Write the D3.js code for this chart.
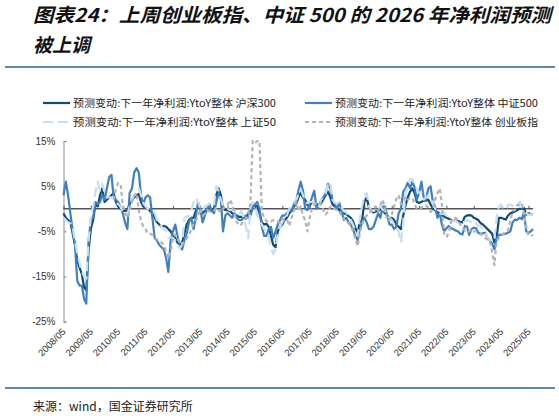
<!DOCTYPE html>
<html>
<head>
<meta charset="utf-8" />
<script src="https://d3js.org/d3.v7.min.js"></script>
<style>
  body { margin: 0; background: #fff; }
  svg text { font-family: "Liberation Sans", Arial, sans-serif; }
  .cjk { font-family: "Noto Sans CJK SC", sans-serif; }
</style>
</head>
<body>
<div id="chart"></div>
<script>
// 月度数据, 从 2008/05 开始 (单位: %)
const firstMonth = new Date(2008, 4, 1);
const tickLabels = ["2008/05","2009/05","2010/05","2011/05","2012/05","2013/05","2014/05","2015/05","2016/05",
  "2017/05","2018/05","2019/05","2020/05","2021/05","2022/05","2023/05","2024/05","2025/05"];
const yTicks = [15, 5, -5, -15, -25];

const hs300 = [
  -1, -2, -2.5, -3, -5.5, -8, -11.5, -13, -14.5, -17.5,
  -18, -9, -4.5, -2.5, 1, 0.5, 3, 4.5, 1.5, 2,
  2.5, 3, 3.5, 1.5, 0.5, 0, -0.5, -0.5, -0.3, 1,
  2, 2.5, 3, 3.3, 1.5, 0.5, 0.3, 0, -0.5, -1,
  -2, -3, -3.5, -4, -3.8, -4, -4.5, -5, -6, -6.5,
  -7.5, -8, -7.5, -5.5, -3.5, -2.5, -2, -2, -0.5, 0.3,
  0, -1, -0.5, -0.3, -0.5, -0.3, 0, 3, 4.5, 3,
  0, -0.3, -0.3, -0.5, -1, -1.3, -1.5, -1.8, -1.8, -2,
  -2.2, -1, -0.5, 0.5, 0.8, 0.5, -1, -3, -3.5, -3.3,
  -4, -6, -8, -8.5, -5, -4, -3.5, -2.5, -2, -1,
  -0.5, 0.5, 1, 2.5, 3.5, 2.5, 2, 0.8, 0.7, 1.5,
  1.2, 1, 0.8, 1.2, 2.2, 3, 3.8, 2.5, 1, 0.5,
  0, -0.3, -1, -1, -1.2, -1.6, -2, -2.8, -4.3, -5.3,
  -3, -2.5, 1.5, 2.5, 0.3, -0.3, -0.8, -0.6, -0.5, -0.2,
  -0.3, -1, -1.5, -2, -2, -2.5, -3.5, -4, -4.5, -1.5,
  0.8, 2.5, 3.8, 4.5, 3.5, 1.5, 1.3, 1.5, 1.8, 1.8,
  2, 1, 0, -0.3, -0.8, -1, -1.5, -1.7, -2, -2.2,
  -2.5, -2.5, -2.6, -2.7, -2.9, -3, -1.8, -1.5, -1.4, -1.5,
  -2, -2.2, -2.5, -3.2, -3.5, -4, -4.5, -5, -5.5, -7.5,
  -6.5, -2, -2, -2.2, -2.4, -1.5, -1, -0.8, -0.6, -0.3,
  0, 0, 0.2, -1.3, -1, -1.2, -1.2
];
const zz500 = [
  3, 6, 3, -1, -5, -8, -16, -17, -17, -20,
  -21, -7, -2.5, -2, 1.5, 1, 1.5, 3, 2, 4.5,
  7, 7.5, 2.5, 2, 1.5, 0.5, -1, -3, -4.5, 3.5,
  4.5, 8, 9, 8, 3, 1, 2.5, 3, 2.5, -2,
  -6.5, -7, -8, -8.5, -9, -11, -14, -7, -5, -3.5,
  -6, -8.5, -9, -7, -5.5, -3, -2, -4.5, -2, 1.5,
  0, -3, -1.5, 0, 1, -0.5, -1, 1.5, 3.5, 2,
  -5, -1.5, -1, -1.5, -2, -1, -2, -2.5, -2.5, -2,
  -1.5, -2, -1.5, 0, 1, 1.5, 0, -4, -6, -6,
  -4.5, -4, -6.5, -5, -3.5, -2.5, -1.5, -1.5, -1, -0.5,
  -0.5, 1, 1.5, 4, 6, 4, 0, -0.3, 1, 2.5,
  4, 0, 0.5, 2, 2.5, 3.5, 5.5, 4.5, 2, 1,
  0, 1.3, -0.5, -2.5, -2, -3, -3.5, -4.5, -6, -7,
  -4.5, -3, -2, -3, -4.5, -4.5, -4, -2.5, -1, -2,
  0.5, 0.5, -1.5, -3.5, -3.5, -4.5, -4, -1, 0, 3.8,
  4.5, 5.8, 4.5, 6, 4.8, 2, 3.5, 6, 2.5, 2,
  4.5, 5, 1.5, 0.5, -2, -1, -3.5, -5, -4.3, -3.8,
  -4.3, -4.5, -4.8, -5, -5.5, -5.7, -3.8, -4, -5.8, -4.5,
  -4.2, -4.3, -5.3, -5.6, -5.4, -5.3, -6.5, -7, -7.7, -9,
  -6.5, -5.8, -5.8, -5.6, -5.5, -5.3, -5, -3, -2.4, -2.5,
  -2, -2.3, -0.8, -5, -5.3, -5, -4.5
];
const sz50 = [
  -2, -2.5, -3, -3.2, -4, -7, -10, -12, -14, -15,
  -15.5, -7, -1.5, 0.5, 3.5, 6, 4, 5.5, 3.5, 2.5,
  2.5, 2.5, 2.6, 1.5, 1, 0.5, -0.8, -1.3, -1.3, 0.5,
  2, 3, 3.8, 4.5, 3, 1.3, 0.5, 0, -0.2, -0.3,
  -1, -2.5, -3, -4, -4.5, -5, -6.5, -6.3, -6.5, -7,
  -8, -8.7, -8, -2, -1.7, -1.5, -0.5, 1.5, 2.5, 1.5,
  0, -0.5, 0.5, 0.8, 1, 0.5, 1, 5, 4, 2,
  0.8, 0.2, 0, -0.3, -0.2, -0.3, -0.8, -1.3, -0.5, -2,
  -4, -6.5, 0, 1.5, 0.5, -1.5, -2.5, -3.5, -4.5, -5,
  -6, -8.5, -10, -9, -5.5, -4, -3, -2.5, -1.5, 0,
  0.5, 1.5, 2, 3, 4.3, 3, 2, 1.2, 1.5, 1.5,
  1.3, 0.5, 0.5, 2, 2.8, 3.3, 5.5, 5.8, 2, 1.3,
  1.2, 1.5, 0.3, -0.5, -0.8, -1.7, -2.5, -3.5, -5, -6,
  -2, 0.5, 3, 3.5, 0.5, -0.3, -0.5, -0.3, 0.3, 0.5,
  -0.2, -0.5, -1.3, -2, -2.5, -3.5, -4.5, -5, -7.5, -3,
  3.5, 5, 6.5, 6.5, 5.5, 4.5, 3.5, 3.7, 2, 2.5,
  3, 2, 1.5, 0, -0.5, -1, -1.2, -0.8, -1.5, -2,
  -2.8, -2.5, -2.7, -3, -3.2, -3, -2.8, -2.5, -2.6, -3,
  -3.5, -3.2, -3.8, -3.8, -4.5, -5, -6.5, -7, -7.2, -6.5,
  -2, 0.5, 1, 0, -0.2, 0.8, 1, 0.6, 1, 0.8,
  1.5, 0.8, -0.5, -1, -1.3, -1.3, -1.2
];
const cyb = [
  null, null, null, null, null, null, null, null, null, null,
  null, null, null, null, null, null, null, null, null, null,
  null, null, 2, 4.5, 5.7, 5.5, 1, -1, -2, -0.5,
  1.5, 2.8, 3.5, -0.5, -2.5, -4, -4.5, -5.5, -5.5, -5.8,
  -6.3, -6.8, -7, -7.5, -8, -9.5, -11, -9.5, -6.5, -5.7,
  -6.5, -7.5, -8, -7.3, -6.5, -6, -4.5, -3.3, -2.7, -1.7,
  0, -1.5, -1.2, -0.3, -0.6, -0.5, -0.4, 0.3, -0.3, -0.8,
  0, 0.5, 0.8, 2, 1, -1, -3, -3.7, -3.5, -2.5,
  -2.2, -1, 1, 15, 14.5, 15, 15, -0.7, -2, -2.7,
  -3, -2.8, -2.5, -2.5, -2.8, -3.2, -2.3, -2.5, -2.3, -3.8,
  -2, -0.8, 1.5, -0.5, 0.5, -1.5, -2.5, -5, -2, 0,
  0.8, 1.3, 1.5, 1, -0.3, -1.3, -0.6, 0.5, 0.6, 0,
  -0.4, -0.5, -1.7, -2.3, -2.9, -3.2, -3.8, -5, -6.7, -8.3,
  -5.5, -3.5, -2.2, -1.5, -1.3, -0.3, 0.2, 0.5, -0.6, 0.8,
  2, 0, -2.5, -2.5, -1.3, 0.5, 2.2, 3, 1, 1.5,
  2.7, 2, 2.3, 2.4, 1, 0, 0.2, 0.2, 0.8, 0.7,
  0.2, -0.7, -0.3, 2, 3.5, 4.5, 1, -5.5, -6.3, -5.3,
  -3, -2.3, -2, -2.5, -3.5, -4, -4.8, -5.2, -5, -4.5,
  -5, -5, -5.3, -5.5, -6, -6.5, -6.8, -7, -9.5, -12.5,
  -7.2, -6.5, -5.8, -5.5, -5, -4.8, -2.5, -0.5, -0.3, 0.8,
  0.8, 1.2, -1, -4, -6, -6, -5.8
];

const seriesNames = ["预测变动:下一年净利润:YtoY整体 沪深300", "预测变动:下一年净利润:YtoY整体 中证500",
  "预测变动:下一年净利润:YtoY整体 上证50", "预测变动:下一年净利润:YtoY整体 创业板指"];
const seriesValues = [hs300, zz500, sz50, cyb];
const seriesColors = ["#0e4c77", "#3f80c4", "#c8def2", "#b3b3b3"];
const seriesDash = [null, null, "10,5", "4,3"];

const width = 559, height = 416;
const dates = hs300.map((v, i) => d3.timeMonth.offset(firstMonth, i));

const svg = d3.select("#chart").append("svg")
  .attr("width", width)
  .attr("height", height);

svg.append("rect").attr("width", width).attr("height", height).attr("fill", "#fff");

// 标题
svg.append("text").attr("class", "cjk")
  .attr("x", 33).attr("y", 22)
  .attr("textLength", 518).attr("lengthAdjust", "spacingAndGlyphs")
  .style("font-size", "19px").style("font-weight", "bold").style("font-style", "italic")
  .attr("fill", "#111")
  .text("图表24：上周创业板指、中证 500 的 2026 年净利润预测");
svg.append("text").attr("class", "cjk")
  .attr("x", 33).attr("y", 52)
  .style("font-size", "19px").style("font-weight", "bold").style("font-style", "italic")
  .attr("fill", "#111")
  .text("被上调");

svg.append("line").attr("x1", 5).attr("x2", 555).attr("y1", 67).attr("y2", 67)
  .attr("stroke", "#2d5f88").attr("stroke-width", 1.6);
svg.append("line").attr("x1", 5).attr("x2", 555).attr("y1", 388).attr("y2", 388)
  .attr("stroke", "#2d5f88").attr("stroke-width", 1.6);

svg.append("text").attr("class", "cjk")
  .attr("x", 33).attr("y", 411)
  .style("font-size", "12px").attr("fill", "#222")
  .text("来源：wind，国金证券研究所");

// 比例尺
const x = d3.scaleTime()
  .domain([new Date(2008, 4, 1), new Date(2025, 4, 1)])
  .range([63.5, 528.5]);
const y = d3.scaleLinear().domain([-25, 15]).range([321.7, 141]);

// 图例
const legendPos = [[43, 103], [305, 103], [43, 122], [305, 122]];
seriesNames.forEach(function(name, i) {
  const g = svg.append("g").attr("transform", "translate(" + legendPos[i][0] + "," + legendPos[i][1] + ")");
  g.append("line").attr("x1", 0).attr("x2", 27).attr("y1", 0).attr("y2", 0)
    .attr("stroke", seriesColors[i]).attr("stroke-width", 2.2)
    .attr("stroke-dasharray", seriesDash[i]);
  g.append("text").attr("class", "cjk")
    .attr("x", 30).attr("y", 3.5)
    .attr("textLength", 203).attr("lengthAdjust", "spacingAndGlyphs")
    .style("font-size", "10px").attr("fill", "#222")
    .text(name);
});

// y 轴
const yAxis = svg.append("g")
  .attr("transform", "translate(63.5,0)")
  .call(d3.axisLeft(y).tickValues(yTicks).tickSize(-3).tickPadding(8)
    .tickFormat(d => d + "%"));
yAxis.select(".domain").attr("stroke", "#8a8a8a");
yAxis.selectAll(".tick line").attr("stroke", "#8a8a8a");
yAxis.selectAll("text").style("font-size", "10px").attr("fill", "#333")
  .style("font-family", "'Liberation Sans', Arial, sans-serif");

// 零线 + 刻度
const lastDate = dates[dates.length - 1];
svg.append("line")
  .attr("x1", x(firstMonth)).attr("x2", x(lastDate))
  .attr("y1", y(0)).attr("y2", y(0))
  .attr("stroke", "#555").attr("stroke-width", 1.3);
const tickDates = tickLabels.map(s => new Date(+s.slice(0, 4), +s.slice(5) - 1, 1));
const zeroAxis = svg.append("g")
  .attr("transform", "translate(0," + y(0) + ")")
  .call(d3.axisTop(x).tickValues(tickDates).tickSize(3).tickFormat(""));
zeroAxis.select(".domain").remove();
zeroAxis.selectAll(".tick line").attr("stroke", "#555");

// x 轴标签
const xAxis = svg.append("g")
  .attr("transform", "translate(0,330)")
  .call(d3.axisBottom(x).tickValues(tickDates).tickSize(0)
    .tickFormat((d, i) => tickLabels[i]));
xAxis.select(".domain").remove();
xAxis.selectAll("text")
  .attr("transform", "rotate(-45)")
  .attr("text-anchor", "end")
  .attr("dx", 0).attr("dy", "0.35em").attr("y", 0).attr("x", 0)
  .style("font-size", "9.5px").attr("fill", "#333")
  .style("font-family", "'Liberation Sans', Arial, sans-serif");

// 折线
svg.append("clipPath").attr("id", "plot-clip")
  .append("rect").attr("x", 60).attr("y", 140).attr("width", 480).attr("height", 185);

const line = d3.line()
  .defined(d => d[1] !== null)
  .x(d => x(d[0]))
  .y(d => y(d[1]));

const lines = svg.append("g").attr("clip-path", "url(#plot-clip)");
seriesValues.forEach(function(vals, i) {
  lines.append("path")
    .datum(vals.map((v, j) => [dates[j], v]))
    .attr("d", line)
    .attr("fill", "none")
    .attr("stroke", seriesColors[i])
    .attr("stroke-width", 2.2)
    .attr("stroke-linejoin", "round")
    .attr("stroke-dasharray", seriesDash[i]);
});
</script>
</body>
</html>
